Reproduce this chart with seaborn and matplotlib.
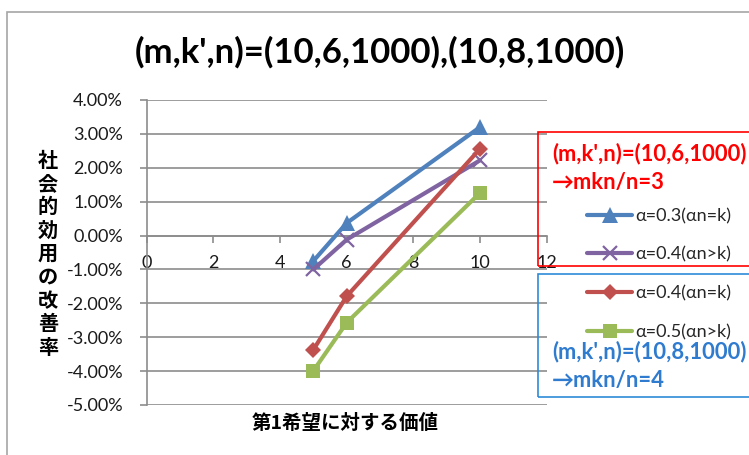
import matplotlib
matplotlib.use("Agg")
import matplotlib.pyplot as plt
from matplotlib.patches import Rectangle
from matplotlib.ticker import FuncFormatter, MultipleLocator
import numpy as np
import pandas as pd
import seaborn as sns

# value of first choice
x_values = [5, 6, 10]

# improvement rate of social utility (%)
alpha03_eq = [-0.75, 0.37, 3.20]   # (10,6,1000) α=0.3(αn=k)
alpha04_gt = [-1.00, -0.12, 2.22]  # (10,6,1000) α=0.4(αn>k)
alpha04_eq = [-3.37, -1.79, 2.56]  # (10,8,1000) α=0.4(αn=k)
alpha05_gt = [-3.99, -2.57, 1.26]  # (10,8,1000) α=0.5(αn>k)

series_labels = ["α=0.3(αn=k)", "α=0.4(αn>k)", "α=0.4(αn=k)", "α=0.5(αn>k)"]
series_colors = ["#4F81BD", "#8064A2", "#C0504D", "#9BBB59"]
series_markers = ["^", "x", "D", "s"]

x_ticks = [0, 2, 4, 6, 8, 10, 12]
title_text = "(m,k',n)=(10,6,1000),(10,8,1000)"
xlabel_text = "第1希望に対する価値"
ylabel_text = "社会的効用の改善率"
group1_text = ["(m,k',n)=(10,6,1000)", "→mkn/n=3"]
group2_text = ["(m,k',n)=(10,8,1000)", "→mkn/n=4"]

frames = []
for lab, vals in zip(series_labels, [alpha03_eq, alpha04_gt, alpha04_eq, alpha05_gt]):
    frames.append(pd.DataFrame({"x": x_values, "y": vals, "series": lab}))
df = pd.concat(frames, ignore_index=True)

sns.set_theme(style="white")
latin = ["Lato", "DejaVu Sans"]
cjk = ["Noto Sans CJK JP", "DejaVu Sans"]
plt.rcParams["font.family"] = latin

W, H = 749, 455
fig = plt.figure(figsize=(W / 100, H / 100), dpi=100)
ax = fig.add_axes([146.7 / W, 1 - 405 / H, 400 / W, 305 / H])

grid_c = "#8c8c8c"
for lab, col, mk in zip(series_labels, series_colors, series_markers):
    sub = df[df["series"] == lab]
    ms = {"^": 11, "x": 10, "D": 8, "s": 10}[mk]
    sns.lineplot(data=sub, x="x", y="y", ax=ax, color=col, marker=mk,
                 markersize=ms, markeredgewidth=1.6 if mk == "x" else 0,
                 markeredgecolor=col, linewidth=3, label=lab, legend=False,
                 zorder=3)

ax.set_xlim(0, 12)
ax.set_ylim(-5, 4)
ax.set_xticks(x_ticks)
ax.yaxis.set_major_locator(MultipleLocator(1))
ax.yaxis.set_major_formatter(FuncFormatter(lambda v, p: f"{v:.2f}%"))
ax.grid(axis="y", color=grid_c, linewidth=1.2, zorder=0)
ax.grid(axis="x", visible=False)

for s in ["top", "right"]:
    ax.spines[s].set_visible(False)
ax.spines["left"].set_color(grid_c)
ax.spines["left"].set_linewidth(1.2)
ax.spines["bottom"].set_position(("data", 0))
ax.spines["bottom"].set_color(grid_c)
ax.spines["bottom"].set_linewidth(1.2)

ax.tick_params(axis="y", which="major", direction="out", length=5, width=1.2,
               color=grid_c, pad=12, labelsize=13, labelcolor="#1a1a1a", left=True)
ax.tick_params(axis="x", which="major", direction="out", length=5, width=1.2,
               color=grid_c, pad=9, labelsize=13, labelcolor="#1a1a1a", bottom=True)
ax.set_xlabel("")
ax.set_ylabel("")

# title
fig.text(380 / W, 1 - 52 / H, title_text, ha="center", va="center",
         fontsize=25, fontweight="bold", color="black")

# axis titles
fig.text(345 / W, 1 - 423 / H, xlabel_text, ha="center", va="center",
         fontsize=14, fontweight="bold", color="black", family=cjk)
for i, ch in enumerate(ylabel_text):
    fig.text(48 / W, 1 - (160 + i * 23.4) / H, ch, ha="center", va="center",
             fontsize=14.5, fontweight="bold", color="black", family=cjk)

# outer chart border
fig.patches.append(Rectangle((7 / W, -0.1), 1.1, 1 - 12 / H + 0.1,
                             transform=fig.transFigure, fill=False,
                             edgecolor="#a6a6a6", linewidth=1.2))

# group boxes (outline only)
fig.patches.append(Rectangle((537.5 / W, 1 - 265.5 / H), 0.4, 134 / H,
                             transform=fig.transFigure, fill=False,
                             edgecolor="#ff0000", linewidth=1.2, zorder=5))
fig.patches.append(Rectangle((537.5 / W, 1 - 396.5 / H), 0.4, 123 / H,
                             transform=fig.transFigure, fill=False,
                             edgecolor="#2e8bd8", linewidth=1.2, zorder=5))

for j, t in enumerate(group1_text):
    fig.text(552 / W, 1 - (154 + j * 28) / H, t, ha="left", va="center",
             fontsize=15.8, fontweight="bold", color="#ff0000", zorder=6,
             family=latin)
for j, t in enumerate(group2_text):
    fig.text(552 / W, 1 - (352 + j * 28) / H, t, ha="left", va="center",
             fontsize=15.8, fontweight="bold", color="#2e7bcf", zorder=6,
             family=latin)

handles, labels = ax.get_legend_handles_labels()
leg = fig.legend(handles, labels, loc="upper left",
                 bbox_to_anchor=(587 / W, 1 - 208 / H), frameon=False,
                 prop={"family": latin, "size": 13}, handlelength=2.5,
                 handletextpad=0.15, labelspacing=1.25, borderpad=0,
                 borderaxespad=0)
leg.set_zorder(7)

fig.savefig("out.png", dpi=100)
